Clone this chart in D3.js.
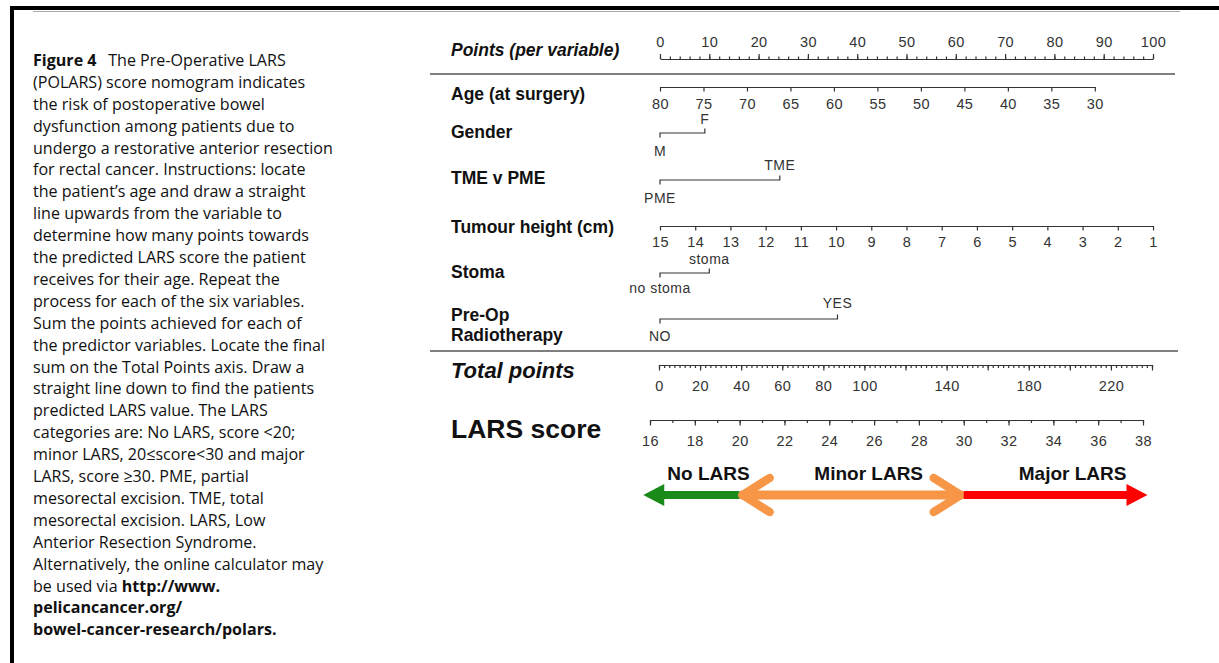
<!DOCTYPE html>
<html>
<head>
<meta charset="utf-8">
<script src="https://cdn.jsdelivr.net/npm/d3@7"></script>
<style>
  body { margin: 0; background: #fff; }
  svg { display: block; }
</style>
</head>
<body>
<div class="chart"></div>
<script>
// ---------- data ----------
const pointsTicks = d3.range(0, 101, 10);
const pointsMinor = d3.range(0, 101, 2);
const ageTicks = [80, 75, 70, 65, 60, 55, 50, 45, 40, 35, 30];
const ageMaxPoints = 88.2;            // points given for age 30
const tumourTicks = [15, 14, 13, 12, 11, 10, 9, 8, 7, 6, 5, 4, 3, 2, 1];
const gender = [{ label: 'M', points: 0 }, { label: 'F', points: 9.1 }];
const surgery = [{ label: 'PME', points: 0 }, { label: 'TME', points: 24.3 }];
const stoma = [{ label: 'no stoma', points: 0 }, { label: 'stoma', points: 10 }];
const radiotherapy = [{ label: 'NO', points: 0 }, { label: 'YES', points: 36 }];
const totalTicks = [0, 20, 40, 60, 80, 100, 140, 180, 220];
const totalMax = 240;
const larsTicks = d3.range(16, 39, 2);
const larsCats = [
  { name: 'No LARS', from: 20, to: 15.7, color: '#1a8a1a' },
  { name: 'Minor LARS', from: 20, to: 30, color: '#f79646' },
  { name: 'Major LARS', from: 30, to: 38.2, color: '#ff0000' }
];

const captionLines = [
  [['Figure 4', true], ['The Pre-Operative LARS', false, 12]],
  [['(POLARS) score nomogram indicates', false]],
  [['the risk of postoperative bowel', false]],
  [['dysfunction among patients due to', false]],
  [['undergo a restorative anterior resection', false]],
  [['for rectal cancer. Instructions: locate', false]],
  [['the patient\u2019s age and draw a straight', false]],
  [['line upwards from the variable to', false]],
  [['determine how many points towards', false]],
  [['the predicted LARS score the patient', false]],
  [['receives for their age. Repeat the', false]],
  [['process for each of the six variables.', false]],
  [['Sum the points achieved for each of', false]],
  [['the predictor variables. Locate the final', false]],
  [['sum on the Total Points axis. Draw a', false]],
  [['straight line down to find the patients', false]],
  [['predicted LARS value. The LARS', false]],
  [['categories are: No LARS, score <20;', false]],
  [['minor LARS, 20\u2264score<30 and major', false]],
  [['LARS, score \u226530. PME, partial', false]],
  [['mesorectal excision. TME, total', false]],
  [['mesorectal excision. LARS, Low', false]],
  [['Anterior Resection Syndrome.', false]],
  [['Alternatively, the online calculator may', false]],
  [['be used via ', false], ['http://www.', true]],
  [['pelicancancer.org/', true]],
  [['bowel-cancer-research/polars.', true]]
];

// ---------- setup ----------
const W = 1219, H = 663;
const FONT = "'Liberation Sans', Arial, sans-serif";
const svg = d3.select('.chart').append('svg').attr('width', W).attr('height', H);

// frame
svg.append('rect').attr('x', 10).attr('y', 6).attr('width', W - 10).attr('height', 4).attr('fill', '#000');
svg.append('rect').attr('x', 10).attr('y', 6).attr('width', 4).attr('height', H - 6).attr('fill', '#000');
svg.append('line').attr('x1', 33).attr('x2', 1180).attr('y1', 11.5).attr('y2', 11.5)
  .attr('stroke', '#aaa').attr('stroke-width', 1);

// caption
const cap = svg.append('g');
captionLines.forEach((segs, i) => {
  const t = cap.append('text')
    .attr('x', 0).attr('y', 66 + i * 21.9)
    .attr('font-family', "'Open Sans', sans-serif")
    .attr('font-size', 16.5)
    .attr('fill', '#111');
  segs.forEach(s => {
    t.append('tspan')
      .attr('font-weight', s[1] ? 'bold' : null)
      .attr('dx', s[2] || null)
      .text(s[0]);
  });
});
let longest = 0;
cap.selectAll('text').each(function () { longest = Math.max(longest, this.getComputedTextLength()); });
cap.attr('transform', `translate(33,0) scale(${300 / longest},1)`);

// ---------- scales ----------
const x = d3.scaleLinear().domain([0, 100]).range([660, 1153]);
const ageScale = d3.scaleLinear().domain([80, 30]).range([x(0), x(ageMaxPoints)]);
const tumourScale = d3.scaleLinear().domain([15, 1]).range([x(0), x(100)]);
const totalScale = d3.scaleLinear().domain([0, totalMax]).range([659, 1152]);
const larsScale = d3.scaleLinear().domain([16, 38]).range([650, 1143]);

function styleAxis(g) {
  g.attr('font-family', FONT).attr('font-size', 14.5).attr('color', '#333');
  g.selectAll('.domain, .tick line').attr('stroke-width', 1.2);
  g.selectAll('text').attr('letter-spacing', 0.4);
}

// axis with ticks below and labels below
function bottomAxis(scale, y, minor, minorSize, major, majorSize, labelY, fmt) {
  const g = svg.append('g').attr('transform', `translate(0,${y})`);
  if (minor) {
    g.append('g').call(d3.axisBottom(scale).tickValues(minor).tickSize(minorSize).tickSizeOuter(0).tickFormat(''))
      .call(styleAxis);
  }
  const m = g.append('g').call(d3.axisBottom(scale).tickValues(major).tickSize(majorSize).tickSizeOuter(0)
    .tickFormat(fmt || (d => d)));
  m.call(styleAxis);
  m.selectAll('text').attr('dy', null).attr('y', labelY);
  return g;
}

// row labels
function rowLabel(text, y, size, italic) {
  svg.append('text').attr('x', 451).attr('y', y)
    .attr('font-family', FONT).attr('font-weight', 'bold')
    .attr('font-style', italic ? 'italic' : null)
    .attr('font-size', size).attr('fill', '#111').text(text);
}

// ---------- points ----------
rowLabel('Points (per variable)', 56, 17.5, true);
const gp = svg.append('g').attr('transform', 'translate(0,59)');
gp.append('g').call(d3.axisTop(x).tickValues(pointsMinor).tickSize(2.5).tickSizeOuter(0).tickFormat(''))
  .call(styleAxis);
gp.append('g').call(d3.axisTop(x).tickValues(pointsTicks).tickSize(5).tickSizeOuter(0).tickPadding(7))
  .call(styleAxis).call(g => g.select('.domain').remove());

// separators
function separator(y, x2) {
  svg.append('line').attr('x1', 430).attr('x2', x2).attr('y1', y).attr('y2', y)
    .attr('stroke', '#555').attr('stroke-width', 1.6);
}
separator(74, 1175);
separator(351, 1178);

// ---------- age ----------
rowLabel('Age (at surgery)', 100, 17.5);
bottomAxis(ageScale, 87, null, 0, ageTicks, 4.5, 21.5);

// ---------- binary variables ----------
function binary(y, items, above, below) {
  const g = svg.append('g').attr('font-family', FONT).attr('font-size', 14)
    .attr('letter-spacing', 0.5).attr('fill', '#333');
  const x0 = x(items[0].points), x1 = x(items[1].points);
  g.append('path')
    .attr('d', `M${x0},${y + 4.5}V${y}H${x1}V${y - 4.5}`)
    .attr('fill', 'none').attr('stroke', '#333').attr('stroke-width', 1.2);
  g.append('text').attr('x', x0).attr('y', y + below).attr('text-anchor', 'middle').text(items[0].label);
  g.append('text').attr('x', x1).attr('y', y - above).attr('text-anchor', 'middle').text(items[1].label);
}

rowLabel('Gender', 138, 17.5);
binary(133, gender, 9, 23);

rowLabel('TME v PME', 184, 17.5);
binary(180, surgery, 10, 23);

rowLabel('Tumour height (cm)', 233, 17.5);
bottomAxis(tumourScale, 226, null, 0, tumourTicks, 4.5, 21);

rowLabel('Stoma', 278, 17.5);
binary(273, stoma, 9.5, 20);

rowLabel('Pre-Op', 321, 17.5);
rowLabel('Radiotherapy', 341, 17.5);
binary(319, radiotherapy, 11, 22);

// ---------- total points ----------
rowLabel('Total points', 378, 22, true);
bottomAxis(totalScale, 365, d3.range(0, totalMax + 0.01, 2.5), 3, d3.range(0, totalMax + 1, 20), 5.5, 26,
  d => totalTicks.includes(d) ? d : '');

// ---------- LARS score ----------
rowLabel('LARS score', 438, 26.5);
bottomAxis(larsScale, 420, d3.range(16, 39, 1), 3, larsTicks, 5.5, 26);

// ---------- category arrows ----------
const ay = 495;
const ga = svg.append('g');
const [noL, minL, majL] = larsCats;

// no LARS: left arrow
const gTip = larsScale(noL.to);
ga.append('line').attr('x1', larsScale(noL.from)).attr('x2', gTip + 16).attr('y1', ay).attr('y2', ay)
  .attr('stroke', noL.color).attr('stroke-width', 8);
ga.append('path').attr('d', `M${gTip},${ay}L${gTip + 21},${ay - 11}L${gTip + 21},${ay + 11}Z`)
  .attr('fill', noL.color);

// minor LARS: double chevron arrow
const o0 = larsScale(minL.from) + 3, o1 = larsScale(minL.to) - 3;
ga.append('line').attr('x1', o0).attr('x2', o1).attr('y1', ay).attr('y2', ay)
  .attr('stroke', minL.color).attr('stroke-width', 9).attr('stroke-linecap', 'round');
ga.append('path').attr('d', `M${o0 + 27},${ay - 17}L${o0},${ay}L${o0 + 27},${ay + 17}`)
  .attr('fill', 'none').attr('stroke', minL.color).attr('stroke-width', 8.5)
  .attr('stroke-linecap', 'round').attr('stroke-linejoin', 'round');
ga.append('path').attr('d', `M${o1 - 27},${ay - 17}L${o1},${ay}L${o1 - 27},${ay + 17}`)
  .attr('fill', 'none').attr('stroke', minL.color).attr('stroke-width', 8.5)
  .attr('stroke-linecap', 'round').attr('stroke-linejoin', 'round');

// major LARS: right arrow
const rTip = larsScale(majL.to);
ga.append('line').attr('x1', larsScale(majL.from)).attr('x2', rTip - 16).attr('y1', ay).attr('y2', ay)
  .attr('stroke', majL.color).attr('stroke-width', 8);
ga.append('path').attr('d', `M${rTip},${ay}L${rTip - 21},${ay - 11}L${rTip - 21},${ay + 11}Z`)
  .attr('fill', majL.color);

// labels
larsCats.forEach(c => {
  const mid = (larsScale(c.from) + larsScale(c.to)) / 2;
  ga.append('text').attr('x', mid + 17).attr('y', 480)
    .attr('text-anchor', 'middle')
    .attr('font-family', FONT).attr('font-weight', 'bold').attr('font-size', 19)
    .attr('fill', '#111').text(c.name);
});
</script>
</body>
</html>
